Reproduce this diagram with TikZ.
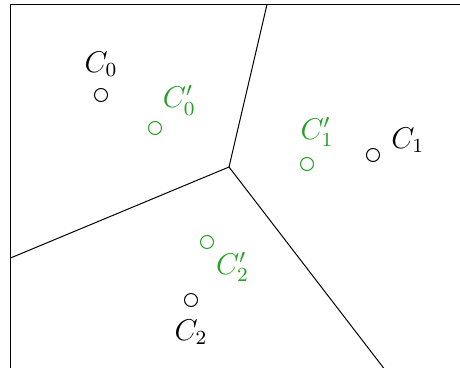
\documentclass[tikz,border=0pt]{standalone}
\usepackage{tikz}
\usetikzlibrary{positioning}
\definecolor{Shifted}{HTML}{22A022}

\begin{document}
\begin{tikzpicture}[x=0.4pt, y=-0.4pt, font=\large,
    site/.style={circle, draw, inner sep=0pt, minimum size=5.2pt, line width=0.4pt},
    newsite/.style={site, draw=Shifted},
    newlabel/.style={text=Shifted, inner sep=1pt}]
    \useasboundingbox (0,0) rectangle (460,367);
    \clip (0,0) rectangle (460,367);
    % frame
    \draw[line width=0.6pt] (10.5,4.5) rectangle (500,368.5);
    % cell borders
    \coordinate (v) at (229,167);
    \coordinate (top) at (267,4.5);
    \coordinate (left) at (10.5,258);
    \coordinate (bottom) at (384,368.5);
    \draw[line width=0.4pt] (v) -- (top);
    \draw[line width=0.4pt] (v) -- (left);
    \draw[line width=0.4pt] (v) -- (bottom);
    % old sites
    \node[site] (c0) at (101,95) {};
    \node[site] (c1) at (373,155) {};
    \node[site] (c2) at (191,300) {};
    \node[above=1pt of c0] (lc0) {$C_0$};
    \node[right=1pt of c1, yshift=6pt] (lc1) {$C_1$};
    \node[below=1.5pt of c2] (lc2) {$C_2$};
    % new sites
    \node[newsite] (n0) at (155,128) {};
    \node[newsite] (n1) at (307,164) {};
    \node[newsite] (n2) at (207,242) {};
    \node[newlabel, above right=2pt and 0pt of n0] (ln0) {$C_0'$};
    \node[newlabel, above=3pt of n1, xshift=4pt] (ln1) {$C_1'$};
    \node[newlabel, below right=1pt and 0.5pt of n2] (ln2) {$C_2'$};
\end{tikzpicture}
\end{document}
